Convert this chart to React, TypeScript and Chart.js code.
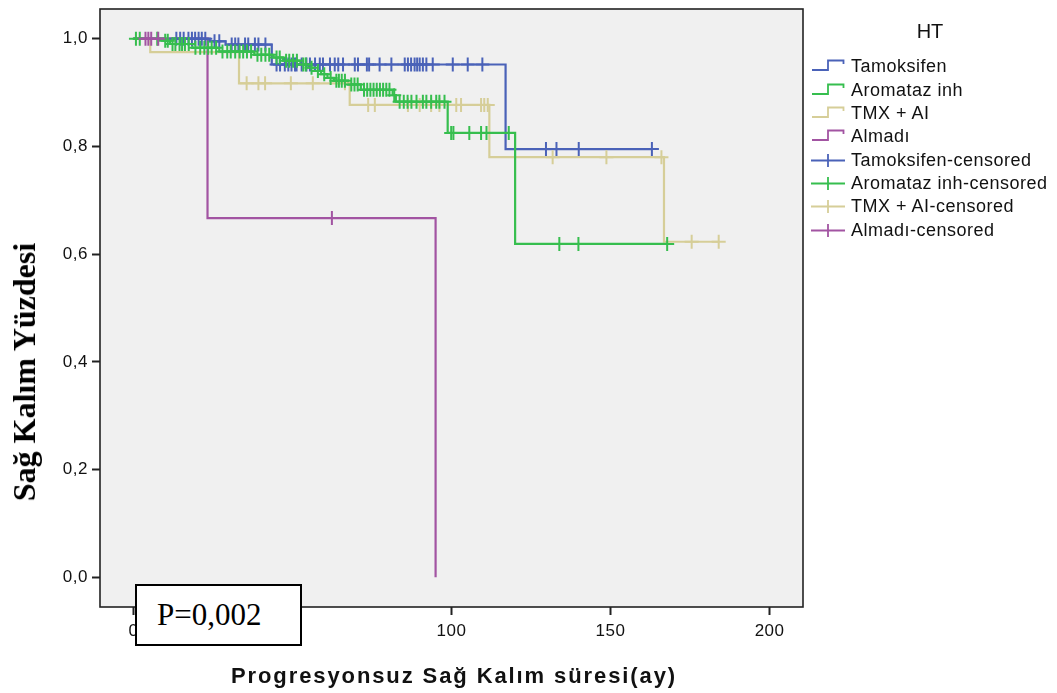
import React, { useEffect, useRef } from "react";
import { Chart, registerables } from "chart.js";

Chart.register(...registerables);

// ---- axis ticks ----
const xTicks = [0, 50, 100, 150, 200];
const yTicks = [0, 0.2, 0.4, 0.6, 0.8, 1.0];

// ---- group names ----
const groupNames = ["Tamoksifen", "Aromataz inh", "TMX + AI", "Almadı"];
const groupColors = ["#4A62B8", "#36BE4E", "#D6CE98", "#A254A2"];

// ---- Tamoksifen ----
const tamEventTimes = [0, 24, 29, 43.5, 117];
const tamSurvival = [1.0, 0.995, 0.989, 0.952, 0.795];
const tamCensored = [
  13.5, 14.7, 15.8, 17.3, 18.4, 19.4, 20.5, 21.5, 22.6,
  25.5, 27, 30.9, 32, 33, 35.1, 36.1, 38.2, 39.3, 41.5,
  45, 46.1, 47.6, 48.7, 49.7, 50.8, 51.3, 52.9, 54.4, 55.5, 57.1, 58.6, 59.6,
  61.8, 63.3, 64.4, 65.9, 69.6, 70.6, 73.4, 74.1, 77.4, 81.1, 85.3, 86.3,
  87.3, 88.4, 89.2, 90, 91, 92.1, 94.1, 100.4, 105.1, 109.7,
  129.7, 133, 140, 163,
];

// ---- Aromataz inh ----
const aiEventTimes = [0, 9.5, 11.5, 18.5, 27, 38, 44, 47, 52.5, 55, 57, 59, 61, 63, 67.5, 71.5, 81.5, 82.5, 98.8, 120];
const aiSurvival = [1.0, 0.996, 0.99, 0.983, 0.976, 0.97, 0.965, 0.959, 0.952, 0.946, 0.94, 0.934, 0.927, 0.922, 0.915, 0.905, 0.895, 0.883, 0.825, 0.619];
const aiCensored = [
  0.8, 2.0, 7.5, 10, 10.8, 12.3, 13.2, 14.5, 15.3, 16.2, 17.4,
  19.5, 21, 22.3, 23.5, 24.6, 26, 28, 29.5, 30.6, 32, 33.4, 34.5, 35.7, 37,
  39, 40.2, 41.5, 42.7, 45, 46, 48, 49, 50.2, 51.4, 53.4, 54.2, 56, 58, 60, 62,
  63.8, 64.6, 65.5, 66.5, 68.5, 69.5, 70.5,
  72.5, 73.5, 74.5, 75.5, 76.5, 77.5, 78.5, 79.5, 80.5, 82,
  83.7, 85, 86.2, 87.4, 89, 91, 92.1, 93.6, 95.2, 96.2, 97.8,
  99.9, 100.6, 105.6, 109.3, 111, 118,
  133.9, 139.9, 167.8,
];

// ---- TMX + AI ----
const tmxEventTimes = [0, 5.3, 33.2, 68, 111.9, 166.8];
const tmxSurvival = [1.0, 0.975, 0.917, 0.877, 0.78, 0.623];
const tmxCensored = [
  35.6, 39.3, 41.4, 49.5, 56.4, 66.5,
  73.8, 75.9, 86.3, 90, 93.6, 96.2, 101.5, 103, 109.3, 110.3, 111.4,
  131.8, 148.7, 166, 175.5, 184,
];

// ---- Almadı ----
const almEventTimes = [0, 23.3, 95];
const almSurvival = [1.0, 0.667, 0.0];
const almCensored = [3.8, 4.7, 5.6, 7.8, 62.4];

const seriesTimes = [tamEventTimes, aiEventTimes, tmxEventTimes, almEventTimes];
const seriesSurv = [tamSurvival, aiSurvival, tmxSurvival, almSurvival];
const seriesCens = [tamCensored, aiCensored, tmxCensored, almCensored];

function survAt(times: number[], surv: number[], t: number) {
  let s = surv[0];
  for (let i = 0; i < times.length; i++) if (times[i] <= t) s = surv[i];
  return s;
}

function stepPoints(times: number[], surv: number[], cens: number[]) {
  const pts = times.map((t, i) => ({ x: t, y: surv[i] }));
  const lastEvent = times[times.length - 1];
  const lastCens = Math.max(...cens);
  if (lastCens > lastEvent) pts.push({ x: lastCens, y: surv[surv.length - 1] });
  return pts;
}

const lineOrder = [7, 6, 8, 5];
const censOrder = [3, 2, 4, 1];

const chartBg = {
  id: "chartBg",
  beforeDraw(chart: any) {
    const { ctx, chartArea: a } = chart;
    ctx.save();
    ctx.fillStyle = "#F0F0F0";
    ctx.fillRect(a.left, a.top, a.right - a.left, a.bottom - a.top);
    ctx.restore();
    ctx.letterSpacing = "0.5px";
  },
  afterDraw(chart: any) {
    const { ctx, chartArea: a } = chart;
    ctx.save();
    ctx.strokeStyle = "#222";
    ctx.lineWidth = 1.6;
    ctx.strokeRect(a.left, a.top, a.right - a.left, a.bottom - a.top);
    ctx.restore();
  },
};

function StepIcon({ color }: { color: string }) {
  return (
    <svg width={34} height={23} style={{ display: "block" }}>
      <path d="M1 15 H17 V5.5 H32.5 V9" fill="none" stroke={color} strokeWidth={1.8} />
    </svg>
  );
}

function CensIcon({ color }: { color: string }) {
  return (
    <svg width={34} height={23} style={{ display: "block" }}>
      <path d="M0 11.5 H34 M17 5 V18" fill="none" stroke={color} strokeWidth={1.8} />
    </svg>
  );
}

export default function App() {
  const ref = useRef<HTMLCanvasElement>(null);

  useEffect(() => {
    if (!ref.current) return;
    const datasets: any[] = [];
    groupNames.forEach((name, g) => {
      datasets.push({
        label: name,
        data: stepPoints(seriesTimes[g], seriesSurv[g], seriesCens[g]),
        showLine: true,
        stepped: "before",
        borderColor: groupColors[g],
        borderWidth: 2.2,
        pointRadius: 0,
        fill: false,
        order: lineOrder[g],
      });
    });
    groupNames.forEach((name, g) => {
      datasets.push({
        label: name + "-censored",
        data: seriesCens[g].map((t) => ({ x: t, y: survAt(seriesTimes[g], seriesSurv[g], t) })),
        showLine: false,
        pointStyle: "cross",
        pointRadius: 7,
        pointBorderWidth: 2,
        borderColor: groupColors[g],
        backgroundColor: groupColors[g],
        order: censOrder[g],
      });
    });

    const tickFont = { family: '"Liberation Sans", Arial, sans-serif', size: 17 };
    const chart = new Chart(ref.current, {
      type: "scatter",
      data: { datasets },
      plugins: [chartBg],
      options: {
        animation: false,
        responsive: false,
        layout: { padding: { left: 0, top: 8, right: 254, bottom: 0 } },
        plugins: { legend: { display: false }, tooltip: { enabled: false } },
        scales: {
          x: {
            type: "linear",
            min: -10.5,
            max: 210.5,
            afterBuildTicks: (s: any) => {
              s.ticks = xTicks.map((v) => ({ value: v }));
            },
            afterFit: (s: any) => {
              s.height = 86;
              s.paddingLeft = 0;
              s.paddingRight = 0;
            },
            grid: { drawOnChartArea: false, drawTicks: true, tickLength: 8, tickWidth: 2, tickColor: "#222" },
            border: { display: false },
            ticks: { color: "#111", font: tickFont, padding: 6, maxRotation: 0, autoSkip: false },
          },
          y: {
            type: "linear",
            min: -0.055,
            max: 1.055,
            afterBuildTicks: (s: any) => {
              s.ticks = yTicks.map((v) => ({ value: v }));
            },
            afterFit: (s: any) => {
              s.width = 100;
              s.paddingTop = 0;
              s.paddingBottom = 0;
            },
            grid: { drawOnChartArea: false, drawTicks: true, tickLength: 8, tickWidth: 2, tickColor: "#222" },
            border: { display: false },
            ticks: {
              color: "#111",
              font: tickFont,
              padding: 4,
              autoSkip: false,
              callback: (v: any) => Number(v).toFixed(1).replace(".", ","),
            },
          },
        },
      } as any,
    });
    return () => chart.destroy();
  }, []);

  const legendFont = '"Liberation Sans", Arial, sans-serif';
  const rows = [
    ...groupNames.map((n, i) => ({ label: n, color: groupColors[i], cens: false })),
    ...groupNames.map((n, i) => ({ label: n + "-censored", color: groupColors[i], cens: true })),
  ];

  return (
    <div style={{ position: "fixed", left: 0, top: 0, width: 1057, height: 693, background: "#fff", overflow: "hidden" }}>
      <canvas ref={ref} width={1057} height={693} style={{ position: "absolute", left: 0, top: 0 }} />
      {/* y axis title */}
      <div
        style={{
          position: "absolute",
          left: 24,
          top: 372,
          transform: "translate(-50%, -50%) rotate(-90deg)",
          whiteSpace: "nowrap",
          font: 'bold 32px "Liberation Serif", "Times New Roman", serif',
          color: "#000",
          lineHeight: 1,
        }}
      >
        Sağ Kalım Yüzdesi
      </div>
      {/* x axis title */}
      <div
        style={{
          position: "absolute",
          left: 454,
          top: 676,
          transform: "translate(-50%, -50%)",
          whiteSpace: "nowrap",
          font: `bold 22px ${legendFont}`,
          letterSpacing: "1.9px",
          color: "#111",
          lineHeight: 1,
        }}
      >
        Progresyonsuz Sağ Kalım süresi(ay)
      </div>
      {/* legend */}
      <div
        style={{
          position: "absolute",
          left: 930,
          top: 31,
          transform: "translate(-50%, -50%)",
          font: `20px ${legendFont}`,
          color: "#111",
          lineHeight: 1,
        }}
      >
        HT
      </div>
      {rows.map((r, i) => (
        <div
          key={r.label}
          style={{
            position: "absolute",
            left: 811,
            top: 66.7 + i * 23.33 - 11.5,
            height: 23,
            display: "flex",
            alignItems: "center",
            whiteSpace: "nowrap",
          }}
        >
          {r.cens ? <CensIcon color={r.color} /> : <StepIcon color={r.color} />}
          <span style={{ marginLeft: 6, font: `18px ${legendFont}`, letterSpacing: "0.5px", color: "#111", lineHeight: "23px" }}>
            {r.label}
          </span>
        </div>
      ))}
      {/* P value box */}
      <div
        style={{
          position: "absolute",
          left: 135,
          top: 584,
          width: 143,
          height: 58,
          border: "2px solid #000",
          background: "#fff",
          paddingLeft: 20,
          boxSizing: "content-box",
          font: '31px "Liberation Serif", "Times New Roman", serif',
          lineHeight: "58px",
          color: "#000",
          whiteSpace: "nowrap",
        }}
      >
        P=0,002
      </div>
    </div>
  );
}
